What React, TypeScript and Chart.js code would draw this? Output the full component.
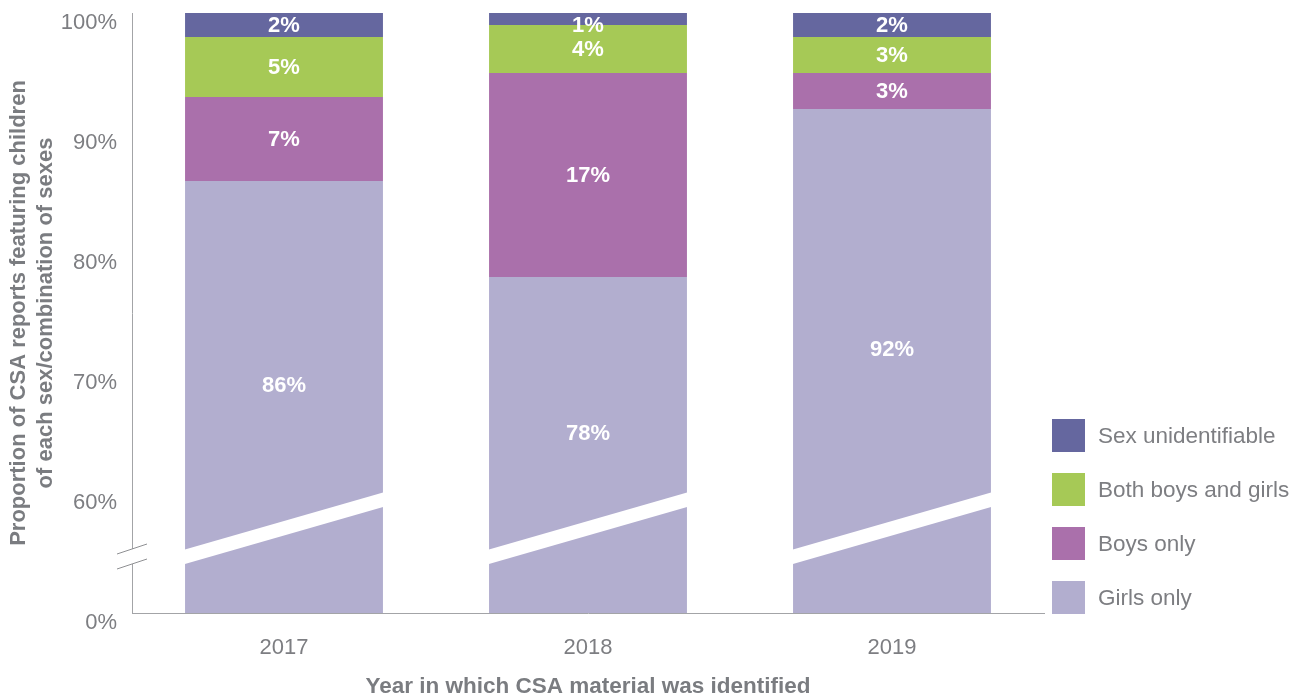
import React, { useEffect, useRef } from "react";
import { Chart, registerables } from "chart.js";

Chart.register(...registerables);

// ---- Data ----
const years = ["2017", "2018", "2019"];
const girlsOnly = [86, 78, 92];
const boysOnly = [7, 17, 3];
const bothBoysAndGirls = [5, 4, 3];
const sexUnidentifiable = [2, 1, 2];
const seriesNames = ["Girls only", "Boys only", "Both boys and girls", "Sex unidentifiable"];
// The axis is broken: the value 50 sits where "0%" is printed.
const yTickValues = [50, 60, 70, 80, 90, 100];
const yTickLabels = ["0%", "60%", "70%", "80%", "90%", "100%"];
const yAxisTitle = ["Proportion of CSA reports featuring children", "of each sex/combination of sexes"];
const xAxisTitle = "Year in which CSA material was identified";

// ---- Styles ----
const FONT = '"Liberation Sans", Arial, Helvetica, sans-serif';
const COLORS = ["#b2aecf", "#aa70ab", "#a6c956", "#65679f"];
const TICK_COLOR = "#7d7e82";
const TITLE_COLOR = "#7a7c80";
const AXIS_COLOR = "#a3a4a7";

const breakPlugin = {
  id: "breakPlugin",
  afterDatasetsDraw(chart: any) {
    const ctx = chart.ctx;
    const area = chart.chartArea;
    const b = area.bottom;
    ctx.save();
    // white slanted band across each bar
    ctx.fillStyle = "#ffffff";
    const meta = chart.getDatasetMeta(0);
    meta.data.forEach((bar: any) => {
      const { x, width } = bar.getProps(["x", "width"], true);
      const l = x - width / 2 - 1;
      const r = x + width / 2 + 1;
      ctx.beginPath();
      ctx.moveTo(l, b - 63.3);
      ctx.lineTo(r, b - 120.7);
      ctx.lineTo(r, b - 106.2);
      ctx.lineTo(l, b - 48.8);
      ctx.closePath();
      ctx.fill();
    });
    // gap and break marks on the y axis
    const ax = chart.scales.y.right;
    ctx.fillRect(ax - 2, b - 64, 4, 15);
    ctx.strokeStyle = "#8e8f92";
    ctx.lineWidth = 1;
    ctx.beginPath();
    ctx.moveTo(ax - 15, b - 59);
    ctx.lineTo(ax + 15, b - 69);
    ctx.moveTo(ax - 15, b - 44);
    ctx.lineTo(ax + 15, b - 54);
    ctx.stroke();
    ctx.restore();
  },
};

const valueLabelPlugin = {
  id: "valueLabelPlugin",
  afterDatasetsDraw(chart: any) {
    const ctx = chart.ctx;
    const area = chart.chartArea;
    ctx.save();
    ctx.fillStyle = "#ffffff";
    ctx.font = `bold 22px ${FONT}`;
    ctx.textAlign = "center";
    ctx.textBaseline = "middle";
    chart.data.datasets.forEach((ds: any, i: number) => {
      const meta = chart.getDatasetMeta(i);
      meta.data.forEach((bar: any, j: number) => {
        const { x, y, base } = bar.getProps(["x", "y", "base"], true);
        const top = Math.min(y, base);
        const bottom = Math.min(Math.max(y, base), area.bottom);
        let cy = (top + bottom) / 2;
        if (i === 0) cy -= 12;
        cy = Math.max(cy, top + 12);
        ctx.fillText(`${ds.data[j]}%`, x, cy + 1);
      });
    });
    ctx.restore();
  },
};

const legendPlugin = {
  id: "sideLegend",
  afterDraw(chart: any) {
    const ctx = chart.ctx;
    const area = chart.chartArea;
    const x0 = area.right + 8;
    const y0 = area.bottom - 194;
    const box = 33;
    const step = 54;
    ctx.save();
    ctx.font = `22.5px ${FONT}`;
    ctx.textAlign = "left";
    ctx.textBaseline = "middle";
    const items = chart.data.datasets.map((d: any) => d).reverse();
    items.forEach((ds: any, k: number) => {
      const top = y0 + k * step;
      ctx.fillStyle = ds.backgroundColor;
      ctx.fillRect(x0, top, box, box);
      ctx.fillStyle = TICK_COLOR;
      ctx.fillText(ds.label, x0 + box + 13, top + box / 2 + 1);
    });
    ctx.restore();
  },
};

export default function App() {
  const canvasRef = useRef<HTMLCanvasElement | null>(null);

  useEffect(() => {
    if (!canvasRef.current) return;
    Chart.defaults.font.family = FONT;
    const seriesData = [girlsOnly, boysOnly, bothBoysAndGirls, sexUnidentifiable];
    const chart = new Chart(canvasRef.current, {
      type: "bar",
      data: {
        labels: years,
        datasets: seriesNames.map((name, i) => ({
          label: name,
          data: seriesData[i],
          backgroundColor: COLORS[i],
          borderWidth: 0,
          barPercentage: 0.651,
          categoryPercentage: 1.0,
        })),
      },
      options: {
        responsive: false,
        animation: false,
        devicePixelRatio: 1,
        layout: { padding: { top: 13, right: 262, left: 0, bottom: 0 } },
        plugins: {
          legend: { display: false },
          tooltip: { enabled: false },
        },
        scales: {
          x: {
            stacked: true,
            grid: { display: false, drawTicks: false },
            border: { display: true, color: AXIS_COLOR, width: 1 },
            ticks: { color: TICK_COLOR, font: { size: 22 }, padding: 22 },
            title: {
              display: true,
              text: xAxisTitle,
              color: TITLE_COLOR,
              font: { size: 22.5, weight: "bold" },
              padding: { top: 0, bottom: 0 },
            },
            afterFit: (s: any) => {
              s.height = 87;
              s.paddingLeft = 0;
              s.paddingRight = 0;
            },
          },
          y: {
            stacked: true,
            min: 50,
            max: 100,
            grid: { display: false, drawTicks: false },
            border: { display: true, color: AXIS_COLOR, width: 1 },
            ticks: {
              stepSize: 10,
              color: TICK_COLOR,
              font: { size: 22 },
              padding: 15,
              labelOffset: 10,
              callback: (v: any) => {
                const idx = yTickValues.indexOf(Number(v));
                return idx >= 0 ? yTickLabels[idx] : "";
              },
            },
            title: {
              display: true,
              text: yAxisTitle,
              color: TITLE_COLOR,
              font: { size: 22, weight: "bold", lineHeight: 1.25 },
              padding: { top: 5, bottom: 0 },
            },
            afterFit: (s: any) => {
              s.width = 132;
              s.paddingTop = 0;
              s.paddingBottom = 0;
            },
          },
        },
      },
      plugins: [breakPlugin, valueLabelPlugin, legendPlugin],
    } as any);
    return () => chart.destroy();
  }, []);

  return (
    <div style={{ position: "fixed", left: 0, top: 0, width: 1306, height: 700, background: "#ffffff" }}>
      <canvas ref={canvasRef} width={1306} height={700} style={{ display: "block" }} />
    </div>
  );
}
